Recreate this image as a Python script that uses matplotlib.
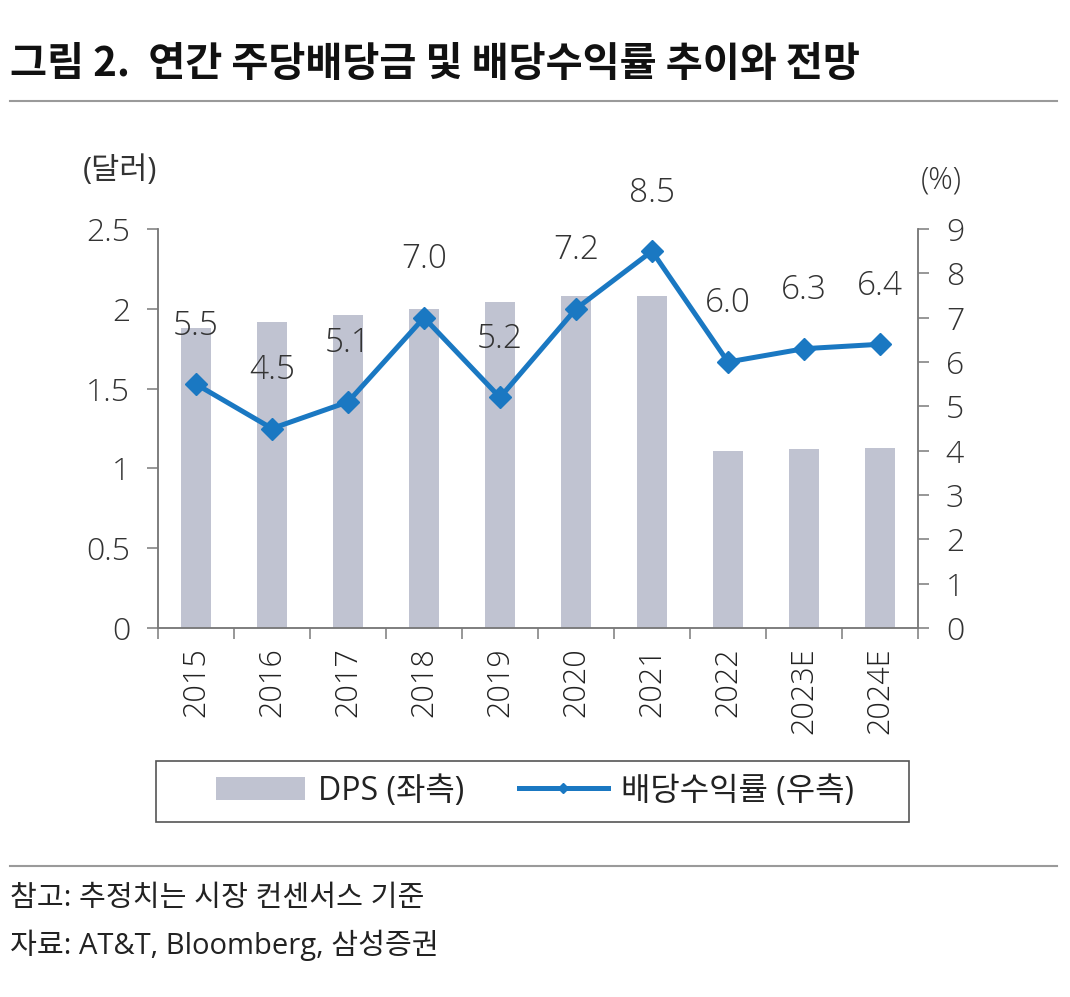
import matplotlib
matplotlib.use('Agg')
import matplotlib.pyplot as plt
import numpy as np
from matplotlib.lines import Line2D
from matplotlib.patches import Rectangle

plt.rcParams['font.family'] = ['Open Sans', 'Noto Sans CJK KR', 'DejaVu Sans']

years = ['2015', '2016', '2017', '2018', '2019', '2020', '2021', '2022', '2023E', '2024E']
dps = [1.88, 1.92, 1.96, 2.00, 2.04, 2.08, 2.08, 1.11, 1.12, 1.13]
div_yield = [5.5, 4.5, 5.1, 7.0, 5.2, 7.2, 8.5, 6.0, 6.3, 6.4]

bar_color = '#c0c3d1'
line_color = '#1a78c2'
txt_color = '#222222'
spine_color = '#7a7a7a'

W, H = 1070, 997
fig = plt.figure(figsize=(W / 100, H / 100), dpi=100)

# title and rules
fig.text(10 / W, 1 - 65 / H, '그림 2.  연간 주당배당금 및 배당수익률 추이와 전망',
         fontsize=29, fontweight='bold', color='#111111', ha='left', va='center',
         family=['Noto Sans CJK KR', 'DejaVu Sans'])
fig.add_artist(Line2D([10 / W, 1057 / W], [1 - 101 / H] * 2, color='#9a9a9a', lw=1.5))
fig.add_artist(Line2D([10 / W, 1057 / W], [1 - 866 / H] * 2, color='#9a9a9a', lw=1.5))

ax = fig.add_axes([158 / W, 1 - 628 / H, 760 / W, 399 / H])
ax2 = ax.twinx()

x = np.arange(len(years))
bars = ax.bar(x, dps, width=0.4, color=bar_color, zorder=2)
line, = ax2.plot(x, div_yield, color=line_color, lw=3.6, marker='D', markersize=11, zorder=3)

for i, v in enumerate(div_yield):
    ax2.annotate(f'{v:.1f}', (i, v), xytext=(0, 42), textcoords='offset points',
                 ha='center', va='center', fontsize=24, color='#333333', fontweight='light')

ax.set_xlim(-0.5, len(years) - 0.5)
ax.set_ylim(0, 2.5)
ax2.set_ylim(0, 9)
ax.set_yticks([0, 0.5, 1, 1.5, 2, 2.5])
ax.set_yticklabels(['0', '0.5', '1', '1.5', '2', '2.5'])
ax2.set_yticks(range(0, 10))

ax.set_xticks(x)
ax.set_xticklabels(years, rotation=90)
ax.set_xticks(np.arange(-0.5, len(years)), minor=True)
ax.tick_params(axis='x', which='major', length=0, pad=14, labelsize=22, labelcolor=txt_color)
ax.tick_params(axis='x', which='minor', length=8, width=1.1, color=spine_color, direction='out')
ax.tick_params(axis='y', length=8, width=1.1, color=spine_color, pad=12, labelsize=23, labelcolor='#333333')
ax2.tick_params(axis='y', length=8, width=1.1, color=spine_color, pad=12, labelsize=23, labelcolor='#333333')
for lab in ax.get_xticklabels() + ax.get_yticklabels() + ax2.get_yticklabels():
    lab.set_fontweight('light')

for a in (ax, ax2):
    a.spines['top'].set_visible(False)
    for s in ('left', 'right', 'bottom'):
        a.spines[s].set_color(spine_color)
        a.spines[s].set_linewidth(1.1)

fig.text(83 / W, 1 - 171 / H, '(달러)', fontsize=22, color='#333333', ha='left', va='center')
fig.text(941 / W, 1 - 180 / H, '(%)', fontsize=22, color='#333333', ha='center', va='center',
         fontweight='light')

# legend
fig.legend([bars, line], ['DPS (좌측)', '배당수익률 (우측)'], loc='center',
           bbox_to_anchor=(535 / W, 1 - 791 / H), ncol=2, frameon=False,
           handlelength=2.8, handletextpad=0.4, columnspacing=1.7, fontsize=23,
           markerscale=0.5, labelcolor=txt_color)
fig.add_artist(Rectangle((156 / W, 1 - 822 / H), 753 / W, 61 / H, fill=False,
                         edgecolor='#555555', lw=1.2, transform=fig.transFigure))

fig.text(10 / W, 1 - 898 / H, '참고: 추정치는 시장 컨센서스 기준', fontsize=21,
         color=txt_color, ha='left', va='center')
fig.text(10 / W, 1 - 945 / H, '자료: AT&T, Bloomberg, 삼성증권', fontsize=21,
         color=txt_color, ha='left', va='center')

fig.savefig('out.png', dpi=100)
